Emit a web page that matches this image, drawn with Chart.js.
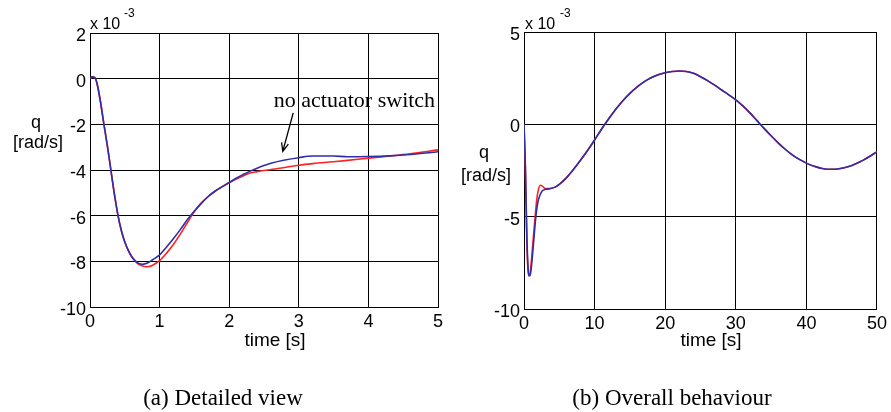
<!DOCTYPE html>
<html>
<head>
<meta charset="utf-8">
<script src="https://cdn.jsdelivr.net/npm/chart.js@4/dist/chart.umd.min.js"></script>
<style>
  html, body { margin: 0; padding: 0; background: #fff; }
  #page { position: relative; width: 891px; height: 412px; background: #fff; overflow: hidden; }
  .panel { position: absolute; top: 0; }
  .sans { position: absolute; font-family: "Liberation Sans", Arial, sans-serif; color: #000; white-space: nowrap; line-height: 1; }
  .serif { position: absolute; font-family: "Liberation Serif", "Times New Roman", serif; color: #000; white-space: nowrap; line-height: 1; }
  .ctr { transform: translateX(-50%); }
</style>
</head>
<body>
<div id="page">
  <div class="panel" style="left:0;width:460px;height:360px"><canvas id="detail" width="460" height="360"></canvas></div>
  <div class="panel" style="left:460px;width:431px;height:360px"><canvas id="overall" width="431" height="360"></canvas></div>

  <!-- axis annotations, MATLAB style -->
  <div class="sans" style="left:90px;top:16px;font-size:16px">x 10</div>
  <div class="sans" style="left:124px;top:7px;font-size:12px">-3</div>
  <div class="sans ctr" style="left:36px;top:113px;font-size:18px">q</div>
  <div class="sans ctr" style="left:38px;top:133px;font-size:18px">[rad/s]</div>
  <div class="sans ctr" style="left:275px;top:330px;font-size:19px">time [s]</div>
  <div class="serif ctr" style="left:223px;top:386px;font-size:23px">(a) Detailed view</div>

  <div class="sans" style="left:525px;top:16px;font-size:16px">x 10</div>
  <div class="sans" style="left:560px;top:7px;font-size:12px">-3</div>
  <div class="sans ctr" style="left:484px;top:143px;font-size:18px">q</div>
  <div class="sans ctr" style="left:486px;top:166px;font-size:18px">[rad/s]</div>
  <div class="sans ctr" style="left:711px;top:330px;font-size:19px">time [s]</div>
  <div class="serif ctr" style="left:672px;top:386px;font-size:23px">(b) Overall behaviour</div>
</div>
<script>
// ---- detailed view, 0..5 s ----
const detailTime = [0, 0.03, 0.07, 0.1, 0.15, 0.2, 0.25, 0.3, 0.35, 0.4, 0.45, 0.5, 0.55, 0.6, 0.65,
  0.7, 0.75, 0.8, 0.85, 0.9, 1.0, 1.1, 1.2, 1.3, 1.4, 1.5, 1.6, 1.7, 1.8, 1.9, 2.0,
  2.1, 2.2, 2.3, 2.4, 2.5, 2.6, 2.8, 3.0, 3.2, 3.5, 3.7, 4.0, 4.3, 4.6, 5.0];
// with actuator switch (red)
const detailSwitch = [0, 0.08, 0.05, -0.2, -1.0, -2.0, -2.95, -4.0, -5.05, -5.95, -6.65, -7.15, -7.52, -7.8, -7.99,
  -8.13, -8.2, -8.24, -8.23, -8.17, -7.97, -7.64, -7.25, -6.8, -6.3, -5.82, -5.44, -5.15, -4.92, -4.73, -4.56,
  -4.4, -4.26, -4.13, -4.07, -4.02, -3.98, -3.89, -3.79, -3.72, -3.64, -3.58, -3.48, -3.39, -3.29, -3.12];
// no actuator switch (blue)
const detailNoSwitch = [0, 0.08, 0.05, -0.2, -1.0, -2.0, -2.95, -4.0, -5.05, -5.95, -6.65, -7.15, -7.52, -7.8, -7.98,
  -8.09, -8.13, -8.1, -8.03, -7.93, -7.72, -7.37, -7.0, -6.6, -6.17, -5.8, -5.46, -5.16, -4.92, -4.73, -4.55,
  -4.36, -4.2, -4.05, -3.92, -3.8, -3.7, -3.56, -3.46, -3.39, -3.39, -3.42, -3.41, -3.38, -3.32, -3.2];

// ---- overall behaviour, 0..50 s ----
const overallTime = [0, 0.2, 0.4, 0.55, 0.7, 0.85, 1.0, 1.2, 1.4, 1.6, 1.8, 2.0, 2.3, 2.6, 3.0, 3.5, 4.4,
  5, 6, 7, 8, 9, 10, 11, 12, 13, 14, 15, 16, 17, 18, 19, 20, 21, 22, 23, 24, 25, 26, 27, 28, 29, 30,
  31, 32, 33, 34, 35, 36, 37, 38, 39, 40, 41, 42, 43, 44, 45, 46, 47, 48, 49, 50];
const overallSwitch = [0, -2.5, -6.3, -7.8, -8.2, -8.1, -7.6, -6.7, -5.8, -4.9, -4.1, -3.6, -3.3, -3.35, -3.48, -3.48, -3.4,
  -3.25, -2.9, -2.45, -1.95, -1.42, -0.85, -0.25, 0.3, 0.82, 1.28, 1.68, 2.02, 2.3, 2.52, 2.68, 2.79, 2.86, 2.89, 2.86, 2.76, 2.58, 2.37, 2.12, 1.86, 1.6, 1.33,
  1.0, 0.62, 0.2, -0.22, -0.62, -1.0, -1.35, -1.65, -1.9, -2.1, -2.26, -2.37, -2.43, -2.43, -2.38, -2.28, -2.13, -1.95, -1.73, -1.48];
const overallNoSwitch = [0, -2.3, -6.0, -7.6, -8.2, -8.2, -7.9, -7.1, -6.2, -5.3, -4.6, -4.15, -3.8, -3.6, -3.52, -3.5, -3.4,
  -3.25, -2.9, -2.45, -1.95, -1.42, -0.85, -0.25, 0.3, 0.82, 1.28, 1.68, 2.02, 2.3, 2.52, 2.68, 2.79, 2.86, 2.89, 2.86, 2.76, 2.58, 2.37, 2.12, 1.86, 1.6, 1.33,
  1.0, 0.62, 0.2, -0.22, -0.62, -1.0, -1.35, -1.65, -1.9, -2.1, -2.26, -2.37, -2.43, -2.43, -2.38, -2.28, -2.13, -1.95, -1.73, -1.48];

const RED = '#ff2222';
const BLUE = '#2e2eaa';
const TICK_FONT = { family: '"Liberation Sans", Arial, sans-serif', size: 18 };

function pts(t, q) { return t.map((x, i) => ({ x: x, y: q[i] })); }

// order: lower value is drawn on top, so the blue trace sits above the red one
function series(t, q, color, order) {
  return {
    data: pts(t, q),
    borderColor: color,
    borderWidth: 1.6,
    pointRadius: 0,
    fill: false,
    order: order,
    cubicInterpolationMode: 'monotone'
  };
}

function makeOptions(x, y, pad, yWidth, xHeight) {
  return {
    responsive: false,
    animation: false,
    devicePixelRatio: 1,
    layout: { padding: pad },
    plugins: { legend: { display: false }, tooltip: { enabled: false } },
    scales: {
      x: {
        type: 'linear', min: x.min, max: x.max,
        ticks: { stepSize: x.step, color: '#000', font: TICK_FONT, padding: 4, maxRotation: 0 },
        grid: { color: '#000', lineWidth: 1, drawTicks: false },
        border: { color: '#000', width: 1 },
        afterFit: s => { s.height = xHeight; }
      },
      y: {
        type: 'linear', min: y.min, max: y.max,
        ticks: { stepSize: y.step, color: '#000', font: TICK_FONT, padding: 4, labelOffset: 3 },
        grid: { color: '#000', lineWidth: 1, drawTicks: false },
        border: { color: '#000', width: 1 },
        afterFit: s => { s.width = yWidth; }
      }
    }
  };
}

// label + arrow pointing at the "no actuator switch" trace
const arrowNote = {
  id: 'arrowNote',
  afterDatasetsDraw(chart) {
    const { ctx, scales: { x, y } } = chart;
    ctx.save();
    ctx.fillStyle = '#000';
    ctx.strokeStyle = '#000';
    ctx.font = '22px "Liberation Serif", "Times New Roman", serif';
    ctx.textAlign = 'center';
    ctx.textBaseline = 'alphabetic';
    ctx.fillText('no actuator switch', x.getPixelForValue(3.8), y.getPixelForValue(-1.25));
    const x0 = x.getPixelForValue(2.92), y0 = y.getPixelForValue(-1.5);
    const x1 = x.getPixelForValue(2.77), y1 = y.getPixelForValue(-3.18);
    ctx.lineWidth = 1.3;
    ctx.beginPath();
    ctx.moveTo(x0, y0);
    ctx.lineTo(x1, y1);
    const ang = Math.atan2(y1 - y0, x1 - x0);
    const h = 9;
    ctx.moveTo(x1 - h * Math.cos(ang - 0.4), y1 - h * Math.sin(ang - 0.4));
    ctx.lineTo(x1, y1);
    ctx.lineTo(x1 - h * Math.cos(ang + 0.4), y1 - h * Math.sin(ang + 0.4));
    ctx.stroke();
    ctx.restore();
  }
};

new Chart(document.getElementById('detail'), {
  type: 'line',
  data: { datasets: [
    series(detailTime, detailSwitch, RED, 2),
    series(detailTime, detailNoSwitch, BLUE, 1)
  ] },
  options: makeOptions({ min: 0, max: 5, step: 1 }, { min: -10, max: 2, step: 2 },
    { left: 0, right: 22, top: 33, bottom: 0 }, 90, 53),
  plugins: [arrowNote]
});

new Chart(document.getElementById('overall'), {
  type: 'line',
  data: { datasets: [
    series(overallTime, overallSwitch, RED, 2),
    series(overallTime, overallNoSwitch, BLUE, 1)
  ] },
  options: makeOptions({ min: 0, max: 50, step: 10 }, { min: -10, max: 5, step: 5 },
    { left: 0, right: 14, top: 32, bottom: 0 }, 64, 51)
});
</script>
</body>
</html>
